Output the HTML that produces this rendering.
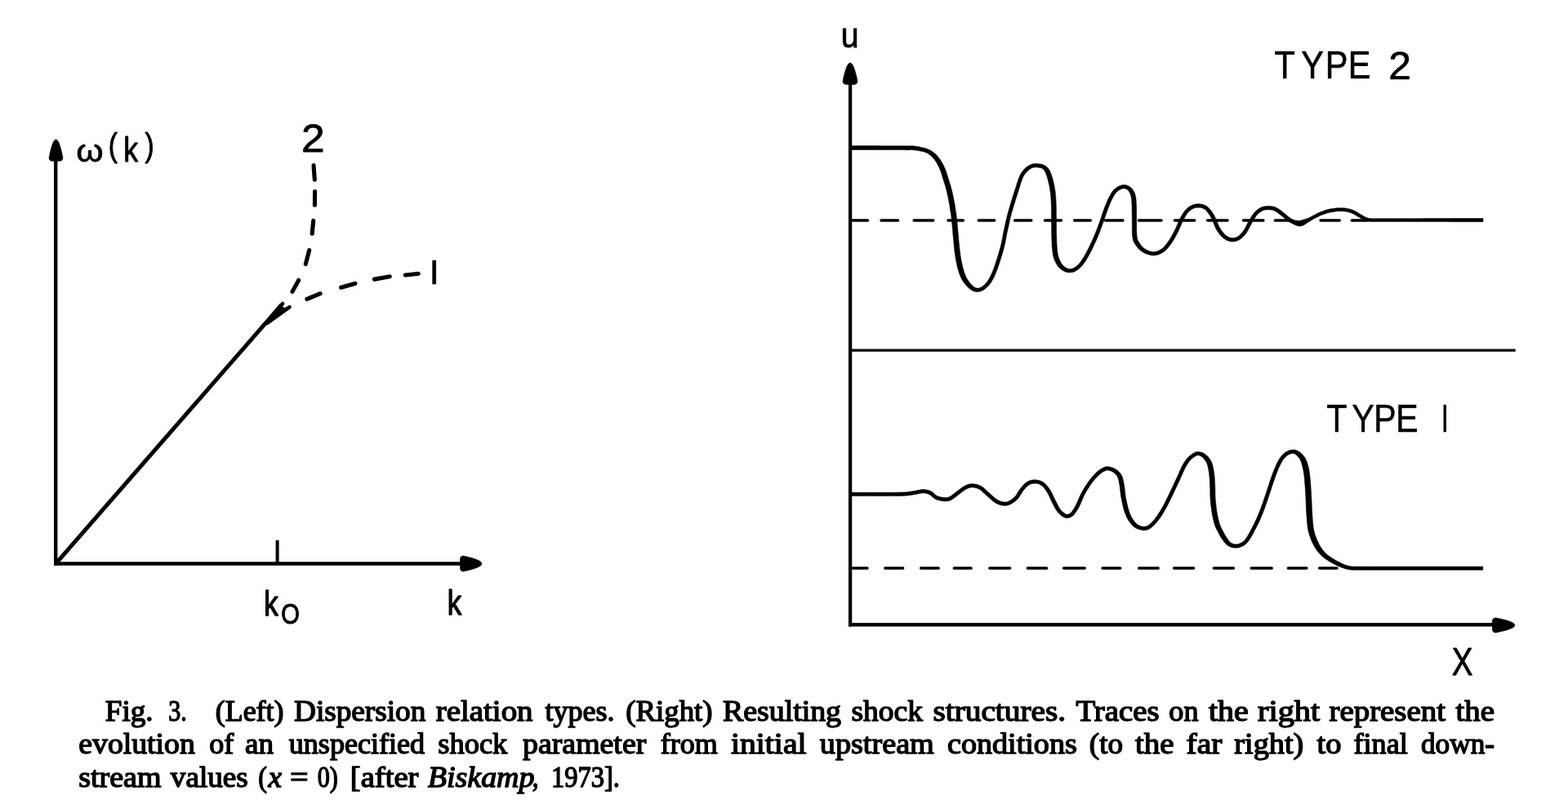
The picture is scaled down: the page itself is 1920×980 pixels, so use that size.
<!DOCTYPE html>
<html lang="en">
<head>
<meta charset="utf-8">
<title>Fig. 3 - Dispersion relation types and resulting shock structures</title>
<style>
html,body{margin:0;padding:0;background:#fff;}
body{width:1920px;height:980px;overflow:hidden;position:relative;}
svg{position:absolute;left:0;top:0;display:block;}
.lab{font-family:"Liberation Sans",sans-serif;fill:#000;stroke:#000;stroke-linejoin:round;}
.cap text{font-family:"Liberation Serif",serif;font-size:35px;fill:#000;stroke:#000;stroke-width:1.4px;stroke-linejoin:round;}
.cap text.it{font-style:italic;}
</style>
</head>
<body>
<svg width="1920" height="980" viewBox="0 0 1920 980">
<g id="left-plot" fill="none" stroke="#000" stroke-linecap="butt">
<path d="M68.2,194 V692.6" stroke-width="4.4"/>
<path d="M66,690.5 H568" stroke-width="4.3"/>
<path d="M0,0 L0.9,0.25 L1.5,0.7 L2.19,1.5 L3.1,3 L4,5 L4.9,7.5 L5.8,10.5 L6.7,14 L7.6,18 L8.4,22 Q8.7,25.8 4.8,26.4 L-4.8,26.4 Q-8.7,25.8 -8.4,22 L-7.6,18 L-6.7,14 L-5.8,10.5 L-4.9,7.5 L-4,5 L-3.1,3 L-2.19,1.5 L-1.5,0.7 L-0.9,0.25 Z" transform="translate(68.5,170.9) rotate(0)" fill="#000" stroke="#000" stroke-width="0.6" stroke-linejoin="round"/>
<path d="M0,0 L1,0.25 L1.68,0.7 L2.45,1.5 L3.47,3 L4.48,5 L5.48,7.5 L6.49,10.5 L7.49,14 L8.5,18 L9.5,22.5 Q9.8,25.8 5.9,26.4 L-5.9,26.4 Q-9.8,25.8 -9.5,22.5 L-8.5,18 L-7.49,14 L-6.49,10.5 L-5.48,7.5 L-4.48,5 L-3.47,3 L-2.45,1.5 L-1.68,0.7 L-1,0.25 Z" transform="translate(589.9,690.5) rotate(90)" fill="#000" stroke="#000" stroke-width="0.6" stroke-linejoin="round"/>
<path d="M339.6,661.7 V690" stroke-width="4"/>
<path d="M68.4,690.3 L345,373.2" stroke-width="5"/>
<path d="M340,378.9 L346.1,371.9 M327.5,395.6 L354.5,376.1" stroke-width="4.5" stroke-linecap="round"/>
<path d="M326,397 L344.6,374.6 L346.6,376.7 L350,377.2 L337,387.6 Z" fill="#000" stroke="#000" stroke-width="0.8" stroke-linejoin="round"/>
<path d="M384.04,202.6 L385.26,220.1 M385.58,234.5 L385.42,251.3 M383.7,270.39 L382.2,286.31 M378.67,306.53 L374.23,323.57 M365.69,343.24 L357.91,357.36 M375.84,366.3 L392.06,359.6 M417.52,352.23 L434.98,347.27 M458.37,342.13 L477.23,338.77 M496.29,336.97 L512.21,335.23" stroke-width="5.1" stroke-linecap="round"/>
</g>
<g id="right-plot" fill="none" stroke="#000">
<path d="M1041.1,100 V767.4" stroke-width="4.3"/>
<path d="M1039,765.2 H1832" stroke-width="4.5"/>
<path d="M1041,429.1 H1855.7" stroke-width="3.4"/>
<path d="M0,0 L0.95,0.25 L1.59,0.7 L2.33,1.5 L3.3,3 L4.26,5 L5.22,7.5 L6.18,10.5 L7.13,14 L8.09,18 L8.9,21.8 Q9.2,25.7 5.3,26.3 L-5.3,26.3 Q-9.2,25.7 -8.9,21.8 L-8.09,18 L-7.13,14 L-6.18,10.5 L-5.22,7.5 L-4.26,5 L-3.3,3 L-2.33,1.5 L-1.59,0.7 L-0.95,0.25 Z" transform="translate(1041,77.1) rotate(0)" fill="#000" stroke="#000" stroke-width="0.6" stroke-linejoin="round"/>
<path d="M0,0 L0.94,0.25 L1.57,0.7 L2.3,1.5 L3.25,3 L4.2,5 L5.14,7.5 L6.08,10.5 L7.02,14 L7.96,18 L9,23 Q9.3,27 5.4,27.6 L-5.4,27.6 Q-9.3,27 -9,23 L-7.96,18 L-7.02,14 L-6.08,10.5 L-5.14,7.5 L-4.2,5 L-3.25,3 L-2.3,1.5 L-1.57,0.7 L-0.94,0.25 Z" transform="translate(1854.9,765.9) rotate(90)" fill="#000" stroke="#000" stroke-width="0.6" stroke-linejoin="round"/>
<path d="M1044.3,270 H1062.6 M1079,270 H1099.6 M1119.2,270 H1142.7 M1161,270 H1179.4 M1198.3,270 H1217.7 M1242.6,270 H1262.8 M1279.5,270 H1299.5 M1315.6,270 H1335.3 M1353.6,270 H1374.9 M1394.5,270 H1422 M1438.4,270 H1462.7 M1478.6,270 H1503 M1522.5,270 H1546.9 M1561.4,270 H1579.7 M1617.1,270 H1640.2 M1655.3,270 H1674.7" stroke-width="3.5" stroke-linecap="round"/>
<path d="M1044.3,695.9 H1062 M1083.8,695.9 H1105.7 M1127.6,695.9 H1149.2 M1168.3,695.9 H1189.2 M1211.8,695.9 H1236.7 M1258.3,695.9 H1281.7 M1302.6,695.9 H1328.2 M1350.1,695.9 H1371.7 M1394.6,695.9 H1418.2 M1437.6,695.9 H1461.7 M1486.4,695.9 H1510.4 M1532.2,695.9 H1557.2 M1577.4,695.9 H1599.9 M1615.7,695.9 H1636.9" stroke-width="3.5" stroke-linecap="round"/>
<path d="M1043,183.5 L1047.1,183.5 L1052.9,183.5 L1059.6,183.5 L1066.8,183.5 L1073.8,183.5 L1080,183.5 L1085.6,183.6 L1091.2,183.6 L1096.7,183.6 L1101.7,183.6 L1106.2,183.6 L1110,183.7 L1113.3,183.7 L1115.4,183.6 L1116.9,183.6 L1118.2,183.7 L1120.1,183.9 L1122.2,184.2 L1124.5,184.6 L1126.9,185 L1129.3,185.4 L1131.5,186 L1133.4,186.7 L1135.3,187.6 L1136.9,188.6 L1138.4,189.6 L1139.9,190.8 L1141.2,192.1 L1142.5,193.4 L1143.6,194.7 L1144.7,196.1 L1145.7,197.6 L1146.8,199.3 L1147.6,200.7 L1148.4,202.2 L1149.2,203.8 L1150,205.5 L1150.8,207.2 L1151.5,208.9 L1152.1,210.6 L1152.7,212.3 L1153.3,214.1 L1153.8,216 L1154.4,217.9 L1155,219.9 L1155.7,221.9 L1156.3,224 L1157,226 L1157.6,228.1 L1158.2,230.2 L1158.8,232.3 L1159.3,234.5 L1159.8,236.7 L1160.4,239 L1160.8,241.3 L1161.3,243.6 L1161.8,246 L1162.2,248.5 L1162.7,251.1 L1163.1,253.7 L1163.5,256.2 L1163.9,258.7 L1164.3,260.9 L1164.6,263 L1164.8,264.7 L1165,266.3 L1165.2,268.1 L1165.4,270.4 L1165.7,272.9 L1165.9,275.6 L1166.2,278.6 L1166.5,281.7 L1166.7,284.9 L1167,288 L1167.3,291.1 L1167.6,294.2 L1167.9,297.5 L1168.2,300.7 L1168.5,303.8 L1168.8,306.9 L1169.2,309.8 L1169.6,312.6 L1170,315.4 L1170.4,318.1 L1171,320.8 L1171.5,323.5 L1172.1,326.2 L1172.8,328.9 L1173.6,331.6 L1174.4,334.2 L1175.3,336.7 L1176.2,339.1 L1177.2,341.2 L1178.4,343.2 L1179.5,345.1 L1180.7,346.7 L1181.9,348.2 L1183.1,349.7 L1184.8,351.6 L1186.7,353.3 L1188.5,354.6 L1190.2,355.7 L1192.3,356.7 L1194.3,357.3 L1196.5,357.4 L1198.8,357.3 L1201.3,356.7 L1203.9,355.5 L1205.5,354.4 L1207.2,353.1 L1208.9,351.6 L1210.5,349.9 L1212,348 L1213.2,346.4 L1214.4,344.6 L1215.4,342.8 L1216.5,340.8 L1217.6,338.6 L1218.6,336.3 L1219.7,333.6 L1220.8,330.8 L1221.9,327.7 L1223,324.6 L1224,321.5 L1225,318.5 L1225.9,315.5 L1226.8,312.6 L1227.7,309.7 L1228.5,306.7 L1229.3,303.8 L1230,300.7 L1230.8,297.6 L1231.4,294.4 L1232,291.1 L1232.6,287.9 L1233.2,284.8 L1233.9,281.9 L1234.5,279 L1235.1,276.2 L1235.7,273.5 L1236.3,270.8 L1236.9,268.2 L1237.5,265.6 L1238.2,263.1 L1238.8,260.7 L1239.5,258.3 L1240.2,255.9 L1240.9,253.4 L1241.7,250.8 L1242.6,248 L1243.5,245.1 L1244.4,242.1 L1245.4,239.1 L1246.3,236.2 L1247.2,233.4 L1248.1,230.6 L1248.9,227.9 L1249.7,225.3 L1250.5,222.8 L1251.3,220.5 L1252.1,218.6 L1253,216.5 L1253.9,214.9 L1254.8,213.5 L1255.7,212.2 L1256.7,211 L1258,209.7 L1259.3,208.5 L1260.7,207.4 L1262.2,206.5 L1263.5,205.8 L1265,205.3 L1266.6,205 L1268.3,205 L1270.1,205 L1271.9,205.2 L1273.7,205.5 L1275.2,205.9 L1276.5,206.6 L1277.6,207.5 L1278.5,208.5 L1279.3,209.7 L1280.2,211.4 L1280.8,212.8 L1281.4,214.4 L1282,216.2 L1282.6,218.2 L1283.1,220.2 L1283.6,222.1 L1284.1,224.1 L1284.6,226 L1285,228 L1285.4,230.1 L1285.7,232.2 L1286,234.4 L1286.3,236.7 L1286.5,239 L1286.8,241.5 L1286.9,244 L1287.1,246.7 L1287.2,249.6 L1287.3,252.7 L1287.4,256.1 L1287.4,259.6 L1287.4,263.2 L1287.5,266.7 L1287.5,270 L1287.5,273.2 L1287.6,276.2 L1287.6,279.2 L1287.6,282.1 L1287.6,285 L1287.7,287.8 L1287.8,290.5 L1287.8,293.1 L1287.9,295.6 L1288,298.1 L1288.1,300.6 L1288.3,303 L1288.5,305.3 L1288.8,307.5 L1289,309.7 L1289.4,311.9 L1289.8,314 L1290.4,316.1 L1291.1,318.2 L1292,320.2 L1292.9,322.1 L1293.9,323.8 L1295,325.5 L1296.1,327 L1297.9,328.8 L1299.9,330.4 L1301.7,331.5 L1303.4,332.4 L1305.4,333.2 L1307.5,333.7 L1309.5,333.8 L1311.7,333.7 L1314.2,333.3 L1316.7,332.3 L1318.4,331.3 L1320,330.2 L1321.7,328.8 L1323.3,327.3 L1325,325.5 L1326.3,323.9 L1327.6,322.1 L1328.9,320.2 L1330.2,318.2 L1331.4,316.1 L1332.7,313.9 L1334,311.5 L1335.3,309 L1336.7,306.4 L1338,303.7 L1339.2,301.1 L1340.4,298.6 L1341.5,296.3 L1342.5,294 L1343.5,291.8 L1344.4,289.6 L1345.3,287.3 L1346.2,285 L1347.2,282.6 L1348.1,280.1 L1349,277.6 L1349.9,275.1 L1350.8,272.7 L1351.7,270.2 L1352.5,267.8 L1353.3,265.4 L1354.1,263 L1354.9,260.7 L1355.7,258.4 L1356.6,256.1 L1357.5,253.7 L1358.4,251.3 L1359.4,248.9 L1360.4,246.6 L1361.4,244.5 L1362.4,242.5 L1363.6,240.4 L1364.7,238.6 L1365.8,237 L1367,235.6 L1368.2,234.4 L1369.6,233.3 L1371.2,232.4 L1372.9,231.6 L1374.4,231.1 L1375.7,230.9 L1377.3,231 L1378.8,231.5 L1380.3,232.3 L1381.5,233.3 L1382.4,234.5 L1383.3,236 L1384.1,237.7 L1384.7,239.8 L1385.1,241.2 L1385.3,242.6 L1385.5,244.3 L1385.7,246.1 L1385.8,248.1 L1386,250.4 L1386.1,253.1 L1386.1,256 L1386.2,259.2 L1386.2,262.5 L1386.2,265.8 L1386.3,269 L1386.3,272.3 L1386.3,275.8 L1386.3,279.4 L1386.3,282.8 L1386.4,286 L1386.6,288.8 L1386.9,291.4 L1387.3,293.5 L1387.9,295.3 L1388.7,297.1 L1389.8,298.8 L1390.8,300.5 L1392.1,302.2 L1393.5,304 L1395.1,305.7 L1396.9,307.2 L1398.8,308.6 L1400.9,309.7 L1403.1,310.7 L1405.4,311.6 L1407.8,312.3 L1410.2,312.7 L1412.6,312.9 L1414.9,312.7 L1417.1,312.3 L1419.3,311.6 L1421.3,310.7 L1423.3,309.6 L1425.2,308.4 L1427,307 L1428.6,305.4 L1430.2,303.6 L1431.7,301.7 L1433.1,299.8 L1434.5,297.9 L1435.9,295.8 L1437.3,293.5 L1438.6,291.2 L1439.9,288.9 L1441.2,286.5 L1442.4,284.2 L1443.5,281.8 L1444.6,279.3 L1445.7,276.8 L1446.7,274.4 L1447.7,272.1 L1448.7,270.1 L1449.7,268.2 L1450.7,266.4 L1451.7,264.7 L1452.6,263.1 L1453.6,261.7 L1454.6,260.5 L1456,259.1 L1457.3,257.9 L1458.7,256.9 L1460.1,256 L1461.4,255.3 L1463,254.7 L1464.5,254.3 L1466.1,254.2 L1467.8,254.2 L1469.5,254.3 L1471.2,254.6 L1472.8,255.1 L1474.3,255.8 L1475.4,256.6 L1476.5,257.6 L1477.6,258.8 L1478.8,260.2 L1479.8,261.6 L1480.9,263 L1481.8,264.6 L1482.7,266.3 L1483.7,268.1 L1484.6,270 L1485.4,271.7 L1486.1,273.5 L1486.9,275.5 L1487.7,277.5 L1488.6,279.5 L1489.7,281.5 L1490.9,283.3 L1492.1,285.1 L1493.4,286.9 L1494.8,288.5 L1496.2,290.1 L1497.8,291.4 L1499.6,292.8 L1501.6,294 L1503.6,294.9 L1505.7,295.6 L1507.8,296 L1509.9,296 L1512,295.8 L1514.1,295.3 L1516,294.5 L1517.9,293.5 L1519.7,292.2 L1521.5,290.8 L1523.1,289.1 L1524.6,287.3 L1526.1,285.4 L1527.3,283.6 L1528.4,281.6 L1529.5,279.6 L1530.5,277.6 L1531.5,275.7 L1532.5,273.9 L1533.5,272.1 L1534.6,270.3 L1535.6,268.6 L1536.6,266.9 L1537.6,265.4 L1538.6,264.1 L1539.9,262.6 L1541.2,261.3 L1542.6,260.1 L1544,259.2 L1545.4,258.4 L1546.8,257.8 L1548.3,257.3 L1549.9,257 L1551.6,256.9 L1553.2,256.8 L1554.8,256.9 L1556.4,257 L1558,257.3 L1559.5,257.8 L1561,258.4 L1562.6,259.3 L1564.2,260.4 L1565.9,261.7 L1567.6,263.1 L1569.4,264.5 L1570.9,265.6 L1572.4,266.9 L1574,268.2 L1575.5,269.5 L1577.1,270.7 L1578.6,271.7 L1580.7,273 L1582.7,274 L1584.6,274.9 L1586.2,275.7 L1588.1,276.5 L1590.4,277.1 L1593.1,276.9 L1595.1,276.3 L1596.9,275.5 L1598.6,274.4 L1600.5,273.1 L1602.5,271.9 L1604.4,270.7 L1606.5,269.4 L1608.7,268.1 L1611,266.9 L1613.2,265.7 L1615.3,264.7 L1617.4,263.8 L1619.5,262.9 L1621.6,262.2 L1623.8,261.4 L1625.9,260.8 L1628.1,260.3 L1630.5,259.8 L1633,259.4 L1635.5,259.1 L1638,258.8 L1640.5,258.7 L1642.8,258.7 L1644.9,258.8 L1646.9,259 L1648.9,259.3 L1650.8,259.8 L1652.7,260.3 L1654.6,260.9 L1656.4,261.7 L1658.3,262.6 L1660.1,263.7 L1662,264.9 L1663.9,266 L1665.6,267 L1667.4,267.9 L1669.1,268.8 L1670.8,269.7 L1672.7,270.5 L1675,271.1 L1677.1,271.4 L1679.2,271.5 L1681.4,271.6 L1683.8,271.5 L1686.6,271.5 L1690,271.5 L1693.3,271.5 L1696.4,271.5 L1699.9,271.5 L1704.5,271.5 L1711,271.5 L1720,271.5 L1733.3,271.5 L1750.7,271.6 L1769.9,271.6 L1788.7,271.7 L1804.8,271.7 L1816,271.7 L1816,267.5 L1804.8,267.5 L1788.7,267.5 L1769.9,267.6 L1750.7,267.6 L1733.3,267.7 L1720,267.7 L1711,267.7 L1704.5,267.7 L1699.9,267.7 L1696.4,267.7 L1693.4,267.7 L1690,267.7 L1686.6,267.7 L1683.8,267.7 L1681.4,267.7 L1679.3,267.7 L1677.5,267.6 L1675.8,267.3 L1673.9,266.8 L1672.4,266.2 L1671,265.4 L1669.4,264.5 L1667.6,263.4 L1665.9,262.5 L1664.1,261.4 L1662.2,260.2 L1660.2,259.1 L1658.1,258 L1656,257.1 L1653.9,256.4 L1651.8,255.8 L1649.7,255.4 L1647.5,255 L1645.2,254.8 L1642.8,254.7 L1640.4,254.7 L1637.7,254.8 L1635.1,255.1 L1632.4,255.4 L1629.8,255.8 L1627.3,256.3 L1624.9,256.9 L1622.5,257.6 L1620.3,258.4 L1618.1,259.2 L1615.9,260.1 L1613.7,261.1 L1611.4,262.2 L1609.1,263.4 L1606.8,264.7 L1604.5,265.9 L1602.4,266.9 L1600.5,267.7 L1598.3,268.5 L1596.2,269.1 L1594.4,269.6 L1593,270 L1591.9,270.3 L1590.6,270.5 L1589.7,270.4 L1588,270.1 L1586.3,269.9 L1584.6,269.5 L1582.8,268.8 L1581,267.9 L1579.7,267 L1578.3,265.9 L1576.8,264.7 L1575.3,263.4 L1573.7,262.1 L1572.2,260.9 L1570.4,259.5 L1568.7,258.1 L1566.8,256.7 L1564.9,255.5 L1563,254.4 L1561,253.6 L1559,253 L1557,252.7 L1555.1,252.5 L1553.2,252.4 L1551.3,252.5 L1549.3,252.7 L1547.3,253 L1545.3,253.6 L1543.4,254.4 L1541.6,255.5 L1539.9,256.7 L1538.3,258.1 L1536.7,259.6 L1535.2,261.3 L1534,262.9 L1532.9,264.6 L1531.8,266.3 L1530.7,268.1 L1529.7,269.9 L1528.7,271.7 L1527.6,273.6 L1526.6,275.6 L1525.6,277.6 L1524.6,279.5 L1523.5,281.3 L1522.5,282.8 L1521.2,284.5 L1519.8,286.1 L1518.4,287.6 L1517.1,288.8 L1515.7,289.7 L1514.2,290.5 L1512.7,291.1 L1511.2,291.5 L1509.7,291.6 L1508.2,291.6 L1506.8,291.3 L1505.2,290.8 L1503.7,290.1 L1502.1,289.1 L1500.6,288 L1499.4,286.8 L1498.2,285.5 L1497,284 L1495.8,282.4 L1494.7,280.8 L1493.7,279.1 L1492.8,277.5 L1492,275.7 L1491.2,273.7 L1490.4,271.8 L1489.6,269.8 L1488.8,268 L1487.8,266 L1486.8,264.1 L1485.8,262.3 L1484.7,260.5 L1483.6,258.8 L1482.3,257.3 L1481,255.8 L1479.6,254.3 L1478.1,253.1 L1476.5,252 L1474.4,251 L1472.2,250.3 L1470.1,250 L1468,249.8 L1465.9,249.8 L1463.9,250 L1461.7,250.5 L1459.6,251.3 L1457.9,252.2 L1456.2,253.2 L1454.5,254.5 L1452.9,255.9 L1451.4,257.5 L1450.1,259.1 L1449,260.7 L1447.9,262.4 L1446.8,264.2 L1445.8,266.1 L1444.7,268.1 L1443.7,270.3 L1442.6,272.7 L1441.6,275.1 L1440.6,277.5 L1439.5,279.9 L1438.4,282.2 L1437.3,284.5 L1436,286.8 L1434.8,289.1 L1433.5,291.3 L1432.2,293.4 L1430.9,295.3 L1429.5,297.2 L1428.2,299.1 L1426.8,300.8 L1425.5,302.3 L1424.1,303.7 L1422.6,304.8 L1421,305.8 L1419.4,306.7 L1417.7,307.5 L1416,308 L1414.3,308.4 L1412.6,308.5 L1410.8,308.4 L1408.9,308 L1406.9,307.4 L1404.9,306.6 L1403,305.6 L1401.4,304.6 L1400,303.5 L1398.6,302.2 L1397.4,300.7 L1396.2,299.2 L1395.1,297.6 L1394.2,296.2 L1393.4,294.7 L1392.9,293.5 L1392.6,292.2 L1392.3,290.6 L1392,288.2 L1391.9,285.7 L1391.8,282.7 L1391.7,279.4 L1391.8,275.8 L1391.8,272.3 L1391.7,269 L1391.7,265.7 L1391.7,262.4 L1391.7,259.1 L1391.6,255.9 L1391.6,252.9 L1391.4,250.2 L1391.3,247.8 L1391.2,245.6 L1391,243.6 L1390.7,241.8 L1390.4,240 L1389.9,238.2 L1389,235.8 L1387.9,233.5 L1386.5,231.4 L1384.7,229.7 L1382.7,228.3 L1380.5,227.2 L1378,226.6 L1375.5,226.5 L1373.4,226.8 L1371.3,227.5 L1369.2,228.5 L1367.2,229.7 L1365.4,231 L1363.8,232.6 L1362.3,234.3 L1361,236.2 L1359.8,238.2 L1358.6,240.5 L1357.5,242.5 L1356.4,244.8 L1355.4,247.2 L1354.4,249.7 L1353.4,252.1 L1352.4,254.5 L1351.6,256.9 L1350.7,259.3 L1349.9,261.6 L1349.1,264 L1348.4,266.4 L1347.5,268.8 L1346.7,271.2 L1345.8,273.7 L1344.9,276.1 L1344,278.6 L1343.1,281 L1342.2,283.4 L1341.2,285.7 L1340.3,287.9 L1339.4,290.1 L1338.5,292.2 L1337.5,294.5 L1336.4,296.8 L1335.2,299.2 L1334,301.8 L1332.7,304.4 L1331.4,307 L1330.1,309.4 L1328.9,311.7 L1327.7,313.8 L1326.4,315.9 L1325.2,317.8 L1324,319.6 L1322.8,321.2 L1321.6,322.7 L1320.2,324.2 L1318.8,325.5 L1317.4,326.7 L1316,327.6 L1314.9,328.3 L1313,329.1 L1311.2,329.4 L1309.5,329.4 L1308.1,329.3 L1307,329 L1305.6,328.2 L1304.3,327.4 L1302.8,326.3 L1301.5,325.1 L1300.3,323.6 L1299.5,322.5 L1298.7,321 L1298,319.5 L1297.2,317.9 L1296.6,316.2 L1296,314.5 L1295.6,312.7 L1295.2,310.9 L1294.9,308.9 L1294.7,306.9 L1294.5,304.7 L1294.3,302.4 L1294.1,300.2 L1294,297.8 L1293.9,295.4 L1293.8,292.9 L1293.8,290.3 L1293.7,287.6 L1293.6,284.9 L1293.6,282.1 L1293.6,279.2 L1293.6,276.2 L1293.5,273.1 L1293.5,270 L1293.5,266.7 L1293.4,263.2 L1293.4,259.6 L1293.4,256 L1293.3,252.6 L1293.2,249.4 L1293.1,246.4 L1292.9,243.7 L1292.7,241 L1292.5,238.5 L1292.3,236 L1292,233.6 L1291.6,231.3 L1291.2,229 L1290.8,226.9 L1290.4,224.7 L1289.9,222.7 L1289.4,220.7 L1288.8,218.6 L1288.2,216.5 L1287.5,214.4 L1286.8,212.4 L1286,210.5 L1285.2,208.8 L1283.9,206.7 L1282.4,204.9 L1280.7,203.5 L1278.9,202.4 L1276.8,201.5 L1274.6,201 L1272.4,200.7 L1270.3,200.6 L1268.3,200.5 L1266.2,200.6 L1264,201 L1261.7,201.8 L1259.9,202.7 L1258.2,203.8 L1256.5,205.1 L1254.9,206.5 L1253.5,208 L1252.2,209.5 L1251.1,211.1 L1250.1,212.7 L1249.1,214.6 L1248.1,216.8 L1247.2,219 L1246.4,221.4 L1245.5,223.9 L1244.7,226.6 L1243.9,229.3 L1243,232 L1242.1,234.8 L1241.2,237.8 L1240.2,240.8 L1239.3,243.8 L1238.3,246.8 L1237.5,249.6 L1236.7,252.2 L1236,254.7 L1235.3,257.1 L1234.6,259.5 L1233.9,262 L1233.3,264.6 L1232.6,267.2 L1232,269.8 L1231.4,272.5 L1230.8,275.3 L1230.2,278.1 L1229.5,280.9 L1228.9,284 L1228.3,287.1 L1227.7,290.3 L1227.1,293.5 L1226.5,296.6 L1225.8,299.7 L1225,302.7 L1224.2,305.6 L1223.4,308.5 L1222.6,311.3 L1221.7,314.2 L1220.8,317.1 L1219.8,320.1 L1218.8,323.2 L1217.8,326.3 L1216.7,329.2 L1215.6,332 L1214.6,334.5 L1213.6,336.8 L1212.6,338.8 L1211.6,340.6 L1210.6,342.3 L1209.6,343.9 L1208.6,345.4 L1207.2,347 L1205.8,348.5 L1204.4,349.7 L1202.9,350.9 L1201.7,351.7 L1199.8,352.6 L1198.2,352.9 L1196.5,353 L1195.2,352.8 L1194.2,352.4 L1192.8,351.5 L1191.6,350.5 L1190.2,349.3 L1188.8,347.9 L1187.3,346.1 L1186.4,344.8 L1185.4,343.4 L1184.4,341.9 L1183.5,340.3 L1182.6,338.6 L1181.8,336.7 L1181,334.6 L1180.3,332.4 L1179.6,329.9 L1178.9,327.3 L1178.3,324.7 L1177.7,322.1 L1177.2,319.6 L1176.7,317 L1176.3,314.4 L1175.9,311.7 L1175.5,309 L1175.2,306.1 L1174.8,303.2 L1174.5,300.1 L1174.2,296.9 L1173.9,293.7 L1173.7,290.5 L1173.4,287.4 L1173.1,284.3 L1172.8,281.2 L1172.5,278.1 L1172.3,275 L1172,272.3 L1171.8,269.8 L1171.5,267.4 L1171.3,265.5 L1171.1,263.9 L1170.9,262.1 L1170.5,259.9 L1170.2,257.7 L1169.8,255.3 L1169.4,252.6 L1169,250 L1168.5,247.3 L1168,244.8 L1167.5,242.4 L1167,240 L1166.5,237.6 L1166,235.3 L1165.4,233 L1164.8,230.7 L1164.2,228.5 L1163.6,226.3 L1162.9,224.2 L1162.2,222.1 L1161.6,220.1 L1161,218.1 L1160.4,216.1 L1159.8,214.2 L1159.2,212.3 L1158.6,210.3 L1157.9,208.4 L1157.1,206.5 L1156.3,204.7 L1155.5,202.9 L1154.6,201.1 L1153.6,199.4 L1152.7,197.7 L1151.6,196.1 L1150.4,194.4 L1149.2,192.7 L1147.8,191.1 L1146.4,189.6 L1144.8,188.1 L1143.1,186.8 L1141.4,185.5 L1139.5,184.3 L1137.4,183.3 L1135,182.3 L1132.8,181.6 L1130.4,181 L1127.9,180.4 L1125.3,179.8 L1122.9,179.4 L1120.7,179.1 L1118.6,178.8 L1117,178.7 L1115.4,178.7 L1113.3,178.8 L1110,178.7 L1106.2,178.7 L1101.7,178.7 L1096.7,178.7 L1091.2,178.7 L1085.6,178.7 L1080,178.7 L1073.8,178.6 L1066.8,178.6 L1059.6,178.6 L1052.9,178.6 L1047.1,178.6 L1043,178.7 Z" fill="#000" stroke="#000" stroke-width="0.5" stroke-linejoin="round" fill-rule="nonzero"/>
<path d="M1043,607.6 L1047.2,607.6 L1053,607.6 L1059.9,607.6 L1067.2,607.6 L1074.1,607.6 L1080,607.6 L1085,607.6 L1089.8,607.6 L1094.2,607.6 L1098.3,607.6 L1102,607.5 L1105.4,607.4 L1108.3,607.3 L1110.6,607.1 L1112.7,606.9 L1114.5,606.6 L1116.3,606.4 L1118.2,606.1 L1120.4,605.7 L1122.7,605.3 L1124.8,604.8 L1126.9,604.4 L1128.8,604.1 L1130.4,604 L1132.2,604.1 L1133.8,604.3 L1135.3,604.7 L1136.8,605.2 L1138.1,605.9 L1139.4,606.7 L1140.7,607.8 L1142.1,609.1 L1143.8,610.5 L1145.7,611.6 L1147.9,612.4 L1150.2,613 L1152.5,613.5 L1154.7,613.8 L1156.7,613.9 L1158.9,613.9 L1160.9,613.7 L1163.1,613.2 L1165.3,612.2 L1167,611.1 L1168.8,609.8 L1170.6,608.4 L1172.3,607 L1174,605.7 L1175.6,604.5 L1177.5,603.1 L1179.2,601.8 L1180.9,600.5 L1182.5,599.5 L1184,598.7 L1185.9,597.9 L1187.7,597.4 L1189.4,597.1 L1191.2,597.1 L1192.8,597.3 L1194.4,597.6 L1196.1,598 L1197.8,598.7 L1199.6,599.6 L1201,600.6 L1202.5,601.9 L1204.1,603.4 L1205.8,605 L1207.5,606.6 L1209.2,608.1 L1210.9,609.6 L1212.6,611.1 L1214.3,612.6 L1216,614.1 L1217.9,615.4 L1219.7,616.6 L1222,617.6 L1224.2,618.4 L1226.4,619 L1228.5,619.3 L1230.6,619.4 L1233,619.2 L1235.3,618.6 L1237.3,617.7 L1239.3,616.7 L1240.9,615.7 L1242.4,614.6 L1243.9,613.4 L1245.4,612 L1246.8,610.4 L1248,608.9 L1249,607.2 L1250,605.5 L1251,603.9 L1252,602.3 L1253,601 L1254.4,599.3 L1255.8,597.7 L1257.2,596.2 L1258.6,595 L1260,594 L1261.4,593.3 L1262.9,592.8 L1264.5,592.4 L1266.1,592.2 L1267.6,592.2 L1269.2,592.3 L1270.7,592.6 L1272.3,593 L1273.7,593.7 L1275.1,594.6 L1276.3,595.5 L1277.4,596.6 L1278.6,598 L1279.8,599.4 L1280.9,601.1 L1282,602.7 L1283.1,604.5 L1284.1,606.5 L1285.1,608.6 L1286.1,610.8 L1287.1,613 L1288.1,615.1 L1289.2,617.2 L1290.2,619.2 L1291.3,621.3 L1292.4,623.3 L1293.5,625.1 L1294.7,626.8 L1296.5,628.9 L1298.3,630.6 L1300,631.9 L1301.6,632.9 L1303.4,633.9 L1305.4,634.5 L1307.4,634.5 L1309.6,634.1 L1312,633.1 L1314.3,631.4 L1315.5,630 L1316.6,628.6 L1317.7,627.1 L1318.8,625.3 L1319.9,623.4 L1321.1,621.3 L1322.3,618.9 L1323.5,616.2 L1324.7,613.3 L1326,610.4 L1327.2,607.6 L1328.5,605 L1329.9,602.6 L1331.3,600.2 L1332.8,597.9 L1334.2,595.7 L1335.7,593.5 L1337.2,591.5 L1338.6,589.6 L1340.1,587.8 L1341.5,586.1 L1343,584.6 L1344.4,583.1 L1345.7,581.8 L1347.2,580.5 L1348.7,579.3 L1350.2,578.3 L1351.6,577.5 L1352.8,576.9 L1354.3,576.2 L1355.2,576 L1356.6,576.1 L1358.1,576.4 L1359.8,576.8 L1361.5,577.5 L1363.1,578.4 L1364.3,579.3 L1365.5,580.3 L1366.5,581.4 L1367.5,582.6 L1368.3,584 L1368.8,585.3 L1369.3,586.8 L1369.8,588.5 L1370.2,590.4 L1370.6,592.4 L1371,594.5 L1371.3,596.7 L1371.6,599 L1371.8,601.5 L1372.1,604.1 L1372.4,606.8 L1372.9,609.5 L1373.4,612.2 L1374,615.1 L1374.6,618 L1375.3,620.9 L1376,623.7 L1376.8,626.2 L1377.6,628.5 L1378.4,630.6 L1379.2,632.6 L1380.1,634.5 L1381.1,636.3 L1382.2,638 L1383.4,639.7 L1384.7,641.4 L1386,642.9 L1387.5,644.4 L1389,645.7 L1390.6,646.8 L1392.6,647.8 L1394.7,648.6 L1396.8,649.1 L1398.8,649.4 L1400.7,649.5 L1402.9,649.4 L1405.1,648.9 L1407.3,648 L1409.5,646.6 L1411,645.3 L1412.6,643.9 L1414.1,642.3 L1415.7,640.5 L1417.2,638.7 L1418.8,636.7 L1420.3,634.7 L1421.8,632.5 L1423.3,630.2 L1424.7,627.8 L1426.2,625.3 L1427.7,622.7 L1429.2,619.9 L1430.7,617.1 L1432.2,614.1 L1433.6,611.1 L1435.1,608 L1436.6,605 L1438.1,601.8 L1439.6,598.6 L1441.2,595.3 L1442.6,592.1 L1444.1,589 L1445.4,586.1 L1446.6,583.4 L1447.7,580.9 L1448.7,578.6 L1449.7,576.4 L1450.7,574.3 L1451.6,572.4 L1452.8,570.4 L1453.9,568.6 L1455,566.9 L1456.1,565.5 L1457.2,564.1 L1458.5,562.8 L1459.9,561.5 L1461.3,560.4 L1462.7,559.5 L1463.9,558.7 L1465.3,558 L1466.3,557.7 L1467.5,557.8 L1468.6,558.1 L1469.9,558.5 L1471.1,559.2 L1472.4,560.2 L1473.4,561.2 L1474.6,562.5 L1475.7,563.9 L1476.8,565.5 L1477.6,567.1 L1478.1,568.5 L1478.7,570.2 L1479.1,572 L1479.5,574 L1479.9,576 L1480.3,578.2 L1480.6,580.4 L1480.8,582.7 L1481,585.1 L1481.2,587.6 L1481.4,590.2 L1481.5,593 L1481.6,595.9 L1481.7,599 L1481.8,602.2 L1481.8,605.5 L1481.9,608.7 L1482.1,611.8 L1482.3,614.8 L1482.6,617.6 L1482.9,620.4 L1483.3,623.1 L1483.6,625.8 L1484.1,628.4 L1484.5,631 L1485.1,633.6 L1485.6,636.2 L1486.2,638.6 L1486.8,640.9 L1487.4,642.9 L1488.3,645.3 L1489.1,647.3 L1490,649 L1491,650.8 L1491.9,652.6 L1493,654.6 L1494.1,656.7 L1495.3,658.7 L1496.5,660.6 L1497.8,662.3 L1499.1,664 L1500.5,665.7 L1502,667.2 L1503.8,668.5 L1505.9,669.7 L1508.2,670.5 L1510.4,671 L1512.6,671.2 L1514.9,671.1 L1517.1,670.7 L1519.3,670 L1521.3,669.2 L1523.1,668.2 L1524.8,667 L1526.5,665.5 L1528.2,663.6 L1529.3,662.1 L1530.4,660.5 L1531.5,658.7 L1532.5,656.9 L1533.6,654.9 L1534.7,652.9 L1535.9,650.6 L1537.2,648.2 L1538.5,645.7 L1539.8,643.1 L1541.1,640.5 L1542.3,637.9 L1543.4,635.4 L1544.5,632.8 L1545.6,630.3 L1546.6,627.6 L1547.6,625 L1548.7,622.2 L1549.7,619.2 L1550.8,616.1 L1551.9,613 L1553,609.8 L1554,606.6 L1555.1,603.5 L1556.2,600.3 L1557.2,597 L1558.3,593.7 L1559.4,590.5 L1560.4,587.5 L1561.4,584.7 L1562.3,582.3 L1563.1,580 L1563.9,577.9 L1564.7,576 L1565.5,574.1 L1566.3,572.3 L1567.3,570.2 L1568.2,568.2 L1569.1,566.4 L1570.1,564.8 L1571.1,563.3 L1572.2,561.9 L1573.3,560.6 L1574.4,559.4 L1575.6,558.4 L1576.8,557.6 L1578.4,556.7 L1580.1,556 L1581.7,555.6 L1583.1,555.4 L1584.3,555.6 L1585.4,556.1 L1586.5,556.8 L1587.8,557.8 L1588.8,558.9 L1589.9,560.1 L1591,561.5 L1592,563 L1592.8,564.7 L1593.4,566.3 L1594,568.2 L1594.6,570.2 L1595.1,572.4 L1595.6,574.7 L1596.1,577 L1596.5,579.4 L1596.8,581.9 L1597.1,584.6 L1597.3,587.3 L1597.6,590.2 L1597.8,593.1 L1598.1,596.1 L1598.3,599.2 L1598.5,602.4 L1598.7,605.6 L1598.8,608.8 L1599,611.8 L1599.1,614.6 L1599.2,617.2 L1599.3,619.9 L1599.4,622.5 L1599.5,625.3 L1599.7,628.2 L1599.9,631.4 L1600.2,634.8 L1600.4,638.4 L1600.8,641.9 L1601.1,645.2 L1601.6,648.3 L1602.1,650.9 L1602.7,653.3 L1603.4,655.5 L1604.1,657.5 L1604.8,659.5 L1605.6,661.4 L1606.5,663.5 L1607.4,665.5 L1608.4,667.5 L1609.5,669.5 L1610.6,671.4 L1611.8,673.2 L1613,674.9 L1614.3,676.5 L1615.6,678.1 L1617,679.6 L1618.5,681 L1620.1,682.4 L1621.8,683.7 L1623.5,685 L1625.4,686.2 L1627.2,687.3 L1629,688.4 L1630.7,689.4 L1632.4,690.4 L1634.2,691.3 L1635.9,692.2 L1637.6,693 L1639.3,693.8 L1641.1,694.5 L1643.1,695.3 L1645.1,696 L1647.1,696.7 L1649.3,697.3 L1651.6,697.8 L1653.5,698 L1655.1,698.2 L1656.9,698.2 L1658.9,698.2 L1661.5,698.3 L1665,698.3 L1668.6,698.3 L1672,698.3 L1676.1,698.3 L1681.5,698.3 L1689.2,698.3 L1700,698.3 L1716,698.3 L1736.9,698.3 L1760.1,698.3 L1782.8,698.3 L1802.3,698.3 L1815.8,698.3 L1815.8,694.1 L1802.3,694.1 L1782.8,694.1 L1760.1,694.1 L1736.9,694.1 L1716,694.1 L1700,694.1 L1689.2,694.1 L1681.5,694.1 L1676.1,694.1 L1672,694.1 L1668.6,694.1 L1665,694.1 L1661.5,694.1 L1659,694 L1657,694 L1655.5,693.9 L1654,693.7 L1652.4,693.4 L1650.3,693 L1648.5,692.4 L1646.7,691.7 L1644.8,691 L1642.9,690.1 L1641.3,689.4 L1639.7,688.6 L1638.1,687.8 L1636.5,686.9 L1634.9,686 L1633.3,685 L1631.6,684 L1629.9,682.9 L1628.2,681.8 L1626.6,680.6 L1625.1,679.5 L1623.7,678.2 L1622.5,676.9 L1621.3,675.6 L1620.1,674.3 L1619,672.8 L1618,671.4 L1617,669.8 L1616,668.2 L1615.1,666.4 L1614.2,664.6 L1613.4,662.8 L1612.5,660.9 L1611.8,659 L1611.1,657.1 L1610.4,655.3 L1609.8,653.5 L1609.3,651.6 L1608.8,649.5 L1608.4,647.1 L1608,644.4 L1607.7,641.2 L1607.4,637.8 L1607.1,634.3 L1606.9,630.9 L1606.7,627.8 L1606.5,624.9 L1606.4,622.2 L1606.3,619.6 L1606.2,617 L1606.1,614.3 L1606,611.4 L1605.8,608.4 L1605.6,605.2 L1605.5,602 L1605.2,598.7 L1605,595.6 L1604.8,592.5 L1604.5,589.6 L1604.3,586.7 L1604,583.9 L1603.7,581.1 L1603.4,578.4 L1602.9,575.8 L1602.4,573.2 L1601.8,570.8 L1601.1,568.4 L1600.4,566.1 L1599.6,563.9 L1598.6,561.9 L1597.2,559.7 L1595.7,557.8 L1594.1,556.1 L1592.6,554.7 L1591,553.6 L1589.2,552.4 L1587.2,551.6 L1585.2,551.1 L1583.1,551 L1580.9,551.2 L1578.6,551.8 L1576.5,552.7 L1574.4,553.8 L1572.9,554.9 L1571.4,556.2 L1570.1,557.6 L1568.7,559.1 L1567.5,560.7 L1566.3,562.5 L1565.3,564.3 L1564.3,566.3 L1563.3,568.3 L1562.3,570.5 L1561.5,572.4 L1560.6,574.3 L1559.8,576.3 L1559,578.4 L1558.1,580.7 L1557.2,583.3 L1556.2,586.1 L1555.2,589.1 L1554.1,592.3 L1553.1,595.6 L1552,598.9 L1550.9,602.1 L1549.9,605.2 L1548.8,608.4 L1547.7,611.6 L1546.7,614.7 L1545.6,617.7 L1544.5,620.6 L1543.5,623.4 L1542.5,626.1 L1541.5,628.6 L1540.5,631.1 L1539.4,633.6 L1538.3,636.1 L1537.1,638.6 L1535.9,641.2 L1534.6,643.7 L1533.3,646.2 L1532.1,648.6 L1530.9,650.7 L1529.8,652.8 L1528.7,654.7 L1527.7,656.5 L1526.7,658.1 L1525.7,659.6 L1524.8,660.8 L1523.4,662.4 L1522.1,663.5 L1520.8,664.4 L1519.3,665.2 L1517.7,665.9 L1516.1,666.4 L1514.4,666.7 L1512.8,666.8 L1511.2,666.6 L1509.6,666.1 L1508.1,665.4 L1506.6,664.5 L1505.6,663.5 L1504.6,662.2 L1503.5,660.7 L1502.4,659.1 L1501.3,657.4 L1500.2,655.7 L1499.1,653.8 L1498.1,651.9 L1497.1,650 L1496.2,648.2 L1495.2,646.3 L1494.5,644.8 L1493.9,643.2 L1493.2,641.1 L1492.7,639.3 L1492.1,637.1 L1491.6,634.8 L1491.1,632.4 L1490.6,629.9 L1490.1,627.4 L1489.7,624.9 L1489.4,622.3 L1489.1,619.7 L1488.8,617 L1488.5,614.2 L1488.3,611.4 L1488.1,608.4 L1488,605.3 L1488,602.1 L1487.9,598.8 L1487.8,595.6 L1487.7,592.6 L1487.5,589.9 L1487.4,587.2 L1487.2,584.6 L1487,582.1 L1486.7,579.6 L1486.3,577.2 L1485.9,574.9 L1485.5,572.7 L1485,570.6 L1484.4,568.5 L1483.7,566.4 L1482.8,564.5 L1481.5,562.4 L1480.1,560.5 L1478.5,558.8 L1477,557.4 L1475.4,556.2 L1473.5,555 L1471.6,554.2 L1469.7,553.7 L1467.9,553.4 L1465.8,553.3 L1463.8,553.9 L1461.7,554.9 L1460.3,555.8 L1458.7,556.9 L1457.1,558.2 L1455.5,559.6 L1454,561.1 L1452.6,562.7 L1451.4,564.4 L1450.2,566.2 L1449,568.2 L1447.8,570.4 L1446.7,572.4 L1445.7,574.5 L1444.7,576.8 L1443.7,579.2 L1442.6,581.7 L1441.4,584.3 L1440.1,587.1 L1438.7,590.2 L1437.2,593.4 L1435.6,596.7 L1434.1,599.9 L1432.6,603 L1431.2,606.1 L1429.7,609.1 L1428.2,612.1 L1426.8,615.1 L1425.3,617.9 L1423.9,620.5 L1422.4,623.1 L1421,625.5 L1419.5,627.8 L1418.1,630 L1416.7,632.1 L1415.2,634.1 L1413.8,635.9 L1412.3,637.7 L1410.9,639.3 L1409.5,640.8 L1408.2,642 L1406.9,643 L1405.2,644.1 L1403.8,644.7 L1402.3,645 L1400.7,645.1 L1399.2,645 L1397.7,644.7 L1396.1,644.3 L1394.6,643.6 L1393.2,642.8 L1392.1,641.9 L1390.9,640.8 L1389.8,639.6 L1388.7,638.2 L1387.6,636.7 L1386.6,635.2 L1385.7,633.7 L1384.9,632.1 L1384.1,630.4 L1383.4,628.6 L1382.7,626.7 L1382,624.6 L1381.3,622.2 L1380.7,619.6 L1380,616.8 L1379.4,614 L1378.8,611.2 L1378.3,608.5 L1377.9,606 L1377.6,603.4 L1377.4,600.9 L1377.1,598.4 L1376.8,595.9 L1376.4,593.5 L1376,591.3 L1375.6,589.2 L1375.1,587.1 L1374.5,585.1 L1373.8,583.2 L1372.9,581.4 L1371.7,579.5 L1370.2,577.9 L1368.7,576.5 L1367.1,575.4 L1365.5,574.4 L1363.4,573.3 L1361.1,572.5 L1359,572 L1357,571.7 L1354.9,571.6 L1352.9,572 L1350.8,572.9 L1349.4,573.7 L1347.8,574.6 L1346.2,575.8 L1344.4,577.1 L1342.7,578.6 L1341.2,580 L1339.8,581.5 L1338.2,583.2 L1336.7,585 L1335.2,586.9 L1333.6,588.9 L1332.1,591 L1330.6,593.2 L1329.1,595.5 L1327.6,597.9 L1326.1,600.4 L1324.7,603 L1323.3,605.7 L1321.9,608.6 L1320.7,611.6 L1319.4,614.4 L1318.3,617 L1317.1,619.3 L1316.1,621.3 L1315,623.1 L1314,624.6 L1313,626 L1312.1,627.2 L1311.3,628 L1309.7,629.3 L1308.3,629.9 L1307,630.1 L1306,630.1 L1305.3,629.9 L1304,629.1 L1302.7,628.2 L1301.2,627.1 L1299.8,625.7 L1298.3,624 L1297.4,622.6 L1296.4,621 L1295.4,619.1 L1294.4,617.1 L1293.3,615.1 L1292.3,613.1 L1291.3,611 L1290.3,608.9 L1289.3,606.7 L1288.3,604.5 L1287.1,602.3 L1286,600.3 L1284.7,598.4 L1283.4,596.7 L1282.1,595 L1280.7,593.5 L1279.2,592.1 L1277.7,590.8 L1275.8,589.7 L1273.8,588.9 L1271.7,588.3 L1269.7,587.9 L1267.8,587.8 L1265.8,587.8 L1263.8,588.1 L1261.7,588.5 L1259.7,589.2 L1257.8,590.2 L1255.9,591.5 L1254.2,593 L1252.6,594.7 L1251,596.5 L1249.6,598.2 L1248.4,599.9 L1247.3,601.6 L1246.3,603.3 L1245.3,604.9 L1244.4,606.4 L1243.4,607.6 L1242.2,608.9 L1241,610.1 L1239.7,611.2 L1238.4,612.1 L1237.1,612.9 L1235.5,613.8 L1233.9,614.4 L1232.3,614.9 L1230.6,615 L1229,614.9 L1227.3,614.6 L1225.5,614.2 L1223.7,613.5 L1221.9,612.6 L1220.4,611.7 L1218.9,610.5 L1217.2,609.2 L1215.6,607.7 L1213.9,606.2 L1212.2,604.7 L1210.6,603.2 L1208.9,601.7 L1207.2,600.1 L1205.5,598.5 L1203.7,597 L1201.8,595.8 L1199.7,594.7 L1197.5,593.8 L1195.4,593.3 L1193.4,592.9 L1191.4,592.7 L1189,592.7 L1186.7,593.1 L1184.4,593.8 L1182.2,594.7 L1180.3,595.7 L1178.4,596.9 L1176.6,598.2 L1174.8,599.6 L1173,600.9 L1171.3,602.2 L1169.6,603.6 L1167.8,605 L1166.2,606.3 L1164.6,607.4 L1163.3,608.2 L1161.6,609 L1160.2,609.4 L1158.7,609.5 L1156.9,609.5 L1155.1,609.4 L1153.2,609.1 L1151.2,608.7 L1149.3,608.2 L1147.7,607.6 L1146.3,606.8 L1145.1,605.7 L1143.7,604.4 L1142.1,603.1 L1140.3,601.9 L1138.4,601.1 L1136.6,600.5 L1134.7,600 L1132.6,599.7 L1130.4,599.6 L1128.3,599.7 L1126.1,600.1 L1123.9,600.5 L1121.8,601 L1119.6,601.4 L1117.6,601.7 L1115.6,602 L1113.9,602.3 L1112.1,602.5 L1110.2,602.7 L1108,602.9 L1105.2,603 L1101.9,603.1 L1098.2,603.2 L1094.2,603.2 L1089.8,603.2 L1085,603.2 L1080,603.2 L1074.1,603.2 L1067.2,603.2 L1059.9,603.2 L1053,603.2 L1047.2,603.2 L1043,603.2 Z" fill="#000" stroke="#000" stroke-width="0.5" stroke-linejoin="round" fill-rule="nonzero"/>
</g>
<g id="labels">
<text class="lab" font-size="39.6" stroke-width="0.77" transform="scale(1.08,1)" x="86.27" y="198.5">ω</text>
<text class="lab" font-size="42.4" stroke-width="0.98" transform="scale(0.84,1)" x="158.13 180 211.2" y="192.3 198.1 192.3"><tspan font-size="39.8">(</tspan>k<tspan font-size="39.8">)</tspan></text>
<text class="lab" font-size="48.6" stroke-width="0.78" transform="scale(1.06,1)" x="348.12" y="186.3">2</text>
<text class="lab" font-size="43.4" stroke-width="0.6" transform="scale(1,1)" x="525.69" y="348.4">I</text>
<text class="lab" font-size="43.4" stroke-width="1.33" transform="scale(0.8,1)" x="403.95" y="753.9">k</text>
<text class="lab" font-size="35" stroke-width="0.98" transform="scale(0.83,1)" x="414.73" y="764.5">O</text>
<text class="lab" font-size="43.4" stroke-width="1.33" transform="scale(0.8,1)" x="684.83" y="753">k</text>
<text class="lab" font-size="42.6" stroke-width="0.94" transform="scale(0.92,1)" x="1119.19" y="57.9">u</text>
<text class="lab" font-size="47.2" stroke-width="0.64" transform="scale(0.88,1)" x="1773.26 1810.55 1844.08 1875.9" y="96.4 96.4 96.4 96.4">TYPE</text>
<text class="lab" font-size="48.8" stroke-width="0.69" transform="scale(1.02,1)" x="1666.96" y="97.2">2</text>
<text class="lab" font-size="47.2" stroke-width="0.43" transform="scale(0.88,1)" x="1845.64 1880.89 1911.24 1941.92" y="528.7 528.7 528.7 528.7">TYPE</text>
<text class="lab" font-size="47.4" stroke-width="0.47" transform="scale(0.7,1)" x="2521.2" y="528.8">I</text>
<text class="lab" font-size="48.2" stroke-width="0.89" transform="scale(0.8,1)" x="2222.29" y="827">X</text>
</g>
<g id="caption" class="cap">
<text x="128.8" y="882.5" textLength="58.7" lengthAdjust="spacingAndGlyphs">Fig.</text>
<text x="206.3" y="882.5" textLength="22.5" lengthAdjust="spacingAndGlyphs">3.</text>
<text x="263.8" y="882.5" textLength="83.7" lengthAdjust="spacingAndGlyphs">(Left)</text>
<text x="360" y="882.5" textLength="161.3" lengthAdjust="spacingAndGlyphs">Dispersion</text>
<text x="533.8" y="882.5" textLength="118.7" lengthAdjust="spacingAndGlyphs">relation</text>
<text x="667.5" y="882.5" textLength="85" lengthAdjust="spacingAndGlyphs">types.</text>
<text x="766.3" y="882.5" textLength="106.2" lengthAdjust="spacingAndGlyphs">(Right)</text>
<text x="885" y="882.5" textLength="145" lengthAdjust="spacingAndGlyphs">Resulting</text>
<text x="1042.5" y="882.5" textLength="87.5" lengthAdjust="spacingAndGlyphs">shock</text>
<text x="1142.5" y="882.5" textLength="162.5" lengthAdjust="spacingAndGlyphs">structures.</text>
<text x="1317.5" y="882.5" textLength="102" lengthAdjust="spacingAndGlyphs">Traces</text>
<text x="1431.3" y="882.5" textLength="36.2" lengthAdjust="spacingAndGlyphs">on</text>
<text x="1480" y="882.5" textLength="48.8" lengthAdjust="spacingAndGlyphs">the</text>
<text x="1540" y="882.5" textLength="76.3" lengthAdjust="spacingAndGlyphs">right</text>
<text x="1627.5" y="882.5" textLength="142.5" lengthAdjust="spacingAndGlyphs">represent</text>
<text x="1782.5" y="882.5" textLength="47.5" lengthAdjust="spacingAndGlyphs">the</text>
<text x="96.3" y="923.3" textLength="142.5" lengthAdjust="spacingAndGlyphs">evolution</text>
<text x="256.3" y="923.3" textLength="30" lengthAdjust="spacingAndGlyphs">of</text>
<text x="300" y="923.3" textLength="35" lengthAdjust="spacingAndGlyphs">an</text>
<text x="353.8" y="923.3" textLength="166.2" lengthAdjust="spacingAndGlyphs">unspecified</text>
<text x="536.3" y="923.3" textLength="85" lengthAdjust="spacingAndGlyphs">shock</text>
<text x="640" y="923.3" textLength="151.3" lengthAdjust="spacingAndGlyphs">parameter</text>
<text x="808.8" y="923.3" textLength="70" lengthAdjust="spacingAndGlyphs">from</text>
<text x="895" y="923.3" textLength="92.5" lengthAdjust="spacingAndGlyphs">initial</text>
<text x="1003.8" y="923.3" textLength="140" lengthAdjust="spacingAndGlyphs">upstream</text>
<text x="1160" y="923.3" textLength="158.8" lengthAdjust="spacingAndGlyphs">conditions</text>
<text x="1333.8" y="923.3" textLength="41.2" lengthAdjust="spacingAndGlyphs">(to</text>
<text x="1390" y="923.3" textLength="47.5" lengthAdjust="spacingAndGlyphs">the</text>
<text x="1452.5" y="923.3" textLength="43.8" lengthAdjust="spacingAndGlyphs">far</text>
<text x="1511.3" y="923.3" textLength="85" lengthAdjust="spacingAndGlyphs">right)</text>
<text x="1612.5" y="923.3" textLength="30" lengthAdjust="spacingAndGlyphs">to</text>
<text x="1657.5" y="923.3" textLength="66.3" lengthAdjust="spacingAndGlyphs">final</text>
<text x="1740" y="923.3" textLength="90" lengthAdjust="spacingAndGlyphs">down-</text>
<text x="96.3" y="964.2" textLength="101.2" lengthAdjust="spacingAndGlyphs">stream</text>
<text x="208.8" y="964.2" textLength="95" lengthAdjust="spacingAndGlyphs">values</text>
<text x="316.3" y="964.2" textLength="10.7" lengthAdjust="spacingAndGlyphs">(</text>
<text x="328.5" y="964.2" textLength="16.5" lengthAdjust="spacingAndGlyphs" class="it">x</text>
<text x="355" y="964.2" textLength="22.5" lengthAdjust="spacingAndGlyphs">=</text>
<text x="388.8" y="964.2" textLength="25" lengthAdjust="spacingAndGlyphs">0)</text>
<text x="428.8" y="964.2" textLength="83.7" lengthAdjust="spacingAndGlyphs">[after</text>
<text x="523.8" y="964.2" textLength="130.7" lengthAdjust="spacingAndGlyphs" class="it">Biskamp</text>
<text x="651.8" y="964.2" textLength="7.7" lengthAdjust="spacingAndGlyphs">,</text>
<text x="675" y="964.2" textLength="83.8" lengthAdjust="spacingAndGlyphs">1973].</text>
</g>
</svg>
</body>
</html>
